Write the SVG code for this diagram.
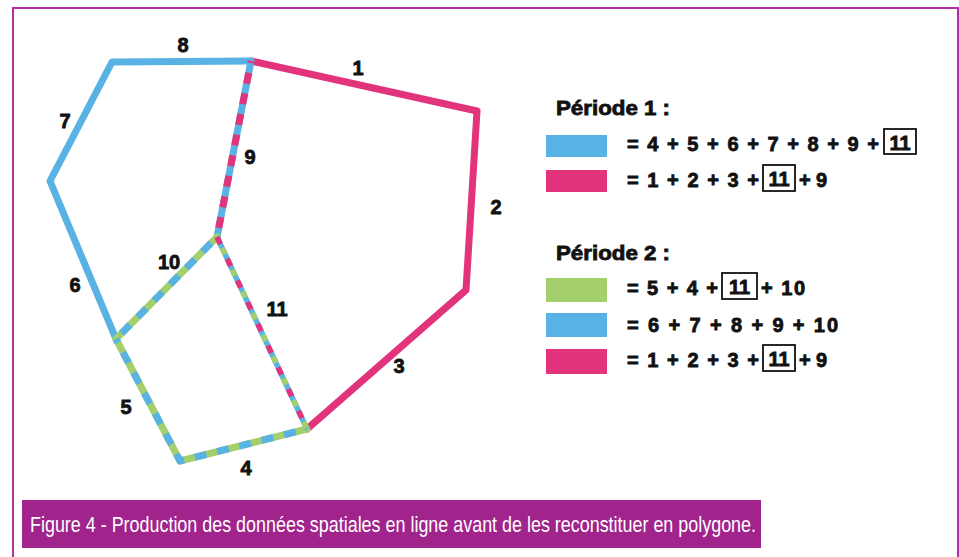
<svg xmlns="http://www.w3.org/2000/svg" width="959" height="557" viewBox="0 0 959 557">
<style>
.e{fill:none;stroke-width:7;stroke-linejoin:round}
.s{stroke-linecap:round}
.d{stroke-linecap:butt}
.t{stroke-width:5.5}
.b{stroke:#58b2e3}.p{stroke:#e2347c}.g{stroke:#a3cf6c}
.lbl{font-family:"Liberation Sans",Arial,sans-serif;font-weight:bold;font-size:20px;fill:#111;text-anchor:middle;stroke:#111;stroke-width:0.8}
.lg{font-family:"Liberation Sans",Arial,sans-serif;font-weight:bold;font-size:20px;fill:#111;stroke:#111;stroke-width:0.8}
.box{fill:none;stroke:#111;stroke-width:1.8}
</style>
<rect x="0" y="0" width="959" height="557" fill="#ffffff"/>
<rect x="13" y="8" width="945" height="560" fill="none" stroke="#b22fa6" stroke-width="2"/>
<g id="connectors">
  <polyline class="e s p" points="251,61 477,111 466,290 307,429"/>
  <polyline class="e s b" points="251,61 112,62 50,181 116,339"/>
  <line class="e d b" x1="251" y1="61" x2="217" y2="237"/>
  <line class="e d p" x1="251" y1="61" x2="217" y2="237" style="stroke-dasharray:11 10;stroke-dashoffset:-12"/>
  <line class="e s g" x1="116" y1="339" x2="217" y2="237"/>
  <line class="e d b" x1="116" y1="339" x2="217" y2="237" style="stroke-dasharray:12 11;stroke-dashoffset:-8"/>
  <polyline class="e s g" points="116,339 180,461 307,429"/>
  <polyline class="e d b" points="116,339 180,461 307,429" style="stroke-dasharray:12 11;stroke-dashoffset:-15"/>
  <line class="e d t b" x1="217" y1="237" x2="307" y2="429"/>
  <line class="e d t p" x1="217" y1="237" x2="307" y2="429" style="stroke-dasharray:8 16"/>
  <line class="e d t g" x1="217" y1="237" x2="307" y2="429" style="stroke-dasharray:7 17;stroke-dashoffset:-12"/>
</g>
<g id="edge-labels">
  <text class="lbl" x="183" y="52">8</text>
  <text class="lbl" x="358" y="75">1</text>
  <text class="lbl" x="65" y="128">7</text>
  <text class="lbl" x="250" y="164">9</text>
  <text class="lbl" x="496" y="214">2</text>
  <text class="lbl" x="169" y="269">10</text>
  <text class="lbl" x="75" y="292">6</text>
  <text class="lbl" x="277" y="316">11</text>
  <text class="lbl" x="399" y="373">3</text>
  <text class="lbl" x="126" y="414">5</text>
  <text class="lbl" x="246" y="475">4</text>
</g>
<g id="legend-periode-1">
  <text class="lg" x="556" y="115" textLength="114" lengthAdjust="spacingAndGlyphs">Période 1 :</text>
  <rect x="546" y="135" width="61" height="22" fill="#58b2e3"/>
  <text class="lg" x="627" y="151" textLength="252" lengthAdjust="spacing">= 4 + 5 + 6 + 7 + 8 + 9 +</text>
  <rect class="box" x="884" y="129" width="32" height="25"/>
  <text class="lg" x="900" y="150" text-anchor="middle">11</text>
  <rect x="546" y="170" width="61" height="22" fill="#e2347c"/>
  <text class="lg" x="627" y="187" textLength="132" lengthAdjust="spacing">= 1 + 2 + 3 +</text>
  <rect class="box" x="763" y="165" width="32" height="26"/>
  <text class="lg" x="779" y="186" text-anchor="middle">11</text>
  <text class="lg" x="799" y="187" textLength="28" lengthAdjust="spacing">+ 9</text>
</g>
<g id="legend-periode-2">
  <text class="lg" x="556" y="260" textLength="114" lengthAdjust="spacingAndGlyphs">Période 2 :</text>
  <rect x="546" y="278" width="61" height="24" fill="#a3cf6c"/>
  <text class="lg" x="627" y="295" textLength="91" lengthAdjust="spacing">= 5 + 4 +</text>
  <rect class="box" x="722" y="273" width="35" height="26"/>
  <text class="lg" x="739.5" y="294" text-anchor="middle">11</text>
  <text class="lg" x="761" y="295" textLength="44" lengthAdjust="spacing">+ 10</text>
  <rect x="546" y="313" width="61" height="24" fill="#58b2e3"/>
  <text class="lg" x="627" y="332" textLength="211" lengthAdjust="spacing">=  6 + 7 + 8 + 9 + 10</text>
  <rect x="546" y="349" width="61" height="25" fill="#e2347c"/>
  <text class="lg" x="627" y="367" textLength="132" lengthAdjust="spacing">= 1 + 2 + 3 +</text>
  <rect class="box" x="763" y="345" width="32" height="26"/>
  <text class="lg" x="779" y="366" text-anchor="middle">11</text>
  <text class="lg" x="799" y="367" textLength="28" lengthAdjust="spacing">+ 9</text>
</g>
<g id="caption">
  <rect x="22" y="500" width="739" height="48" fill="#a1238c"/>
  <text x="30" y="532" font-family="'Liberation Sans Narrow','Liberation Sans',Arial,sans-serif" font-size="22" fill="#ffffff" textLength="726" lengthAdjust="spacingAndGlyphs">Figure 4 - Production des données spatiales en ligne avant de les reconstituer en polygone.</text>
</g>
</svg>
